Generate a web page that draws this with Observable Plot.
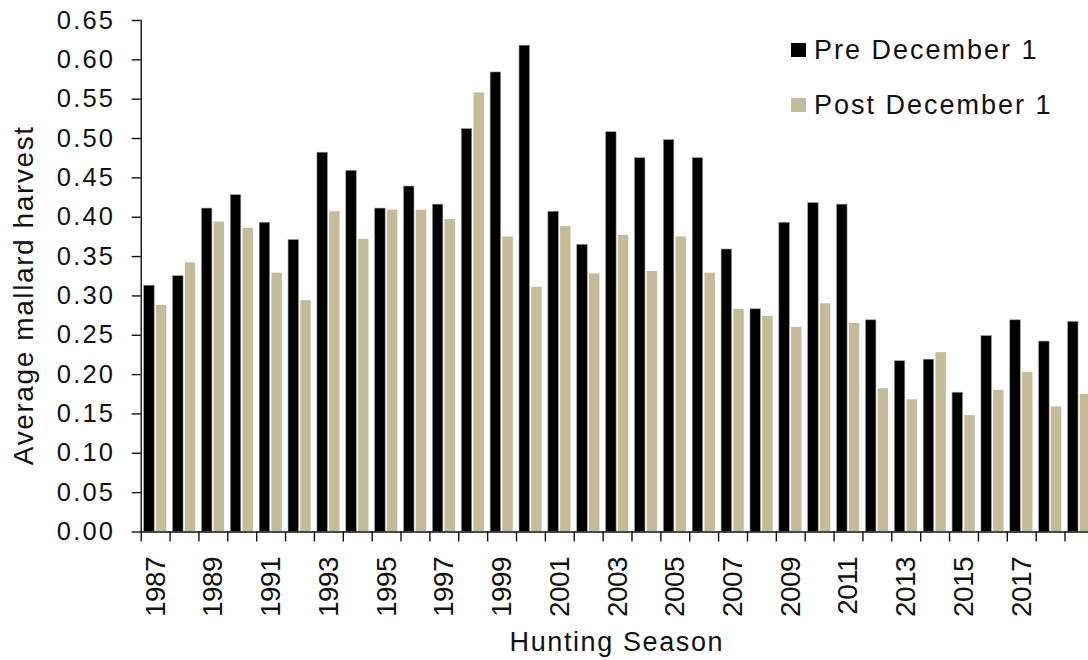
<!DOCTYPE html>
<html>
<head>
<meta charset="utf-8">
<script src="https://cdn.jsdelivr.net/npm/d3@7"></script>
<script src="https://cdn.jsdelivr.net/npm/@observablehq/plot@0.6"></script>
<style>
  html, body { margin: 0; padding: 0; background: #fff; }
  #wrap { position: relative; width: 1088px; height: 660px; overflow: hidden; }
  #wrap svg { overflow: hidden; display: block; }
  g[aria-label="y-axis tick label"] text { letter-spacing: 2.2px; }
  g[aria-label="x-axis tick label"] text { letter-spacing: -0.6px; }
  g[aria-label="text"] text { letter-spacing: 1.6px; }
  .legend { position: absolute; left: 0; top: 0; font-family: "Liberation Sans", Arial, sans-serif; color: #111; }
  .legend .sw { position: absolute; width: 15px; height: 14px; }
  .legend .lb { position: absolute; font-size: 27px; line-height: 30px; letter-spacing: 2px; white-space: nowrap; }
</style>
</head>
<body>
<div id="wrap"></div>
<script>
// ---- data ----
const years = [1987,1988,1989,1990,1991,1992,1993,1994,1995,1996,1997,1998,1999,2000,2001,2002,2003,2004,2005,2006,2007,2008,2009,2010,2011,2012,2013,2014,2015,2016,2017,2018,2019];
const preDec1 = [0.313,0.325,0.411,0.428,0.393,0.371,0.482,0.459,0.411,0.439,0.416,0.512,0.584,0.618,0.407,0.365,0.508,0.475,0.498,0.475,0.359,0.283,0.393,0.418,0.416,0.269,0.217,0.219,0.177,0.249,0.269,0.242,0.267];
const postDec1 = [0.288,0.342,0.394,0.386,0.329,0.294,0.407,0.372,0.409,0.409,0.397,0.558,0.375,0.311,0.388,0.328,0.377,0.331,0.375,0.329,0.283,0.274,0.260,0.290,0.265,0.182,0.168,0.228,0.148,0.180,0.203,0.159,0.175];
const seriesNames = ["Pre December 1", "Post December 1"];
const seriesColors = ["#000000", "#c4bc98"];
const yTicks = [0,0.05,0.10,0.15,0.20,0.25,0.30,0.35,0.40,0.45,0.50,0.55,0.60,0.65];
const xLabelYears = [1987,1989,1991,1993,1995,1997,1999,2001,2003,2005,2007,2009,2011,2013,2015,2017];
const xTitle = "Hunting Season";
const yTitle = "Average mallard harvest";

// ---- table ----
const preRows = years.map((year, i) => ({year, value: preDec1[i], series: seriesNames[0]}));
const postRows = years.map((year, i) => ({year, value: postDec1[i], series: seriesNames[1]}));
const boundaries = years.map(y => y - 0.5).concat([years[years.length - 1] + 0.5]);

const left = 140.7, band = 28.87;
const font = "'Liberation Sans', Arial, Helvetica, sans-serif";

const chart = Plot.plot({
  width: 1088,
  height: 660,
  marginLeft: left,
  marginRight: 0,
  marginTop: 20,
  marginBottom: 128.5,
  style: {fontFamily: font, color: "#111", background: "#fff", overflow: "hidden"},
  x: {type: "linear", domain: [years[0] - 0.5, years[years.length - 1] + 0.5], range: [left, left + years.length * band]},
  y: {domain: [0, 0.65]},
  marks: [
    Plot.rectY(preRows, {x1: d => d.year - 0.5, x2: d => d.year + 0.5, y: "value", fill: seriesColors[0], stroke: "#9a9a9a", strokeWidth: 0.6, insetLeft: 3, insetRight: 15.4}),
    Plot.rectY(postRows, {x1: d => d.year - 0.5, x2: d => d.year + 0.5, y: "value", fill: seriesColors[1], insetLeft: 15.2, insetRight: 3.2}),
    Plot.frame({anchor: "left", stroke: "#111", strokeWidth: 1.4}),
    Plot.frame({anchor: "bottom", stroke: "#111", strokeWidth: 1.4}),
    Plot.axisY({ticks: yTicks, tickFormat: d3.format(".2f"), tickSize: 9, tickPadding: 17, fontSize: 25.5, label: null, stroke: "#111", strokeWidth: 1.4}),
    Plot.axisX({ticks: boundaries, tickFormat: () => "", tickSize: 10, label: null, stroke: "#111", strokeWidth: 1.4}),
    Plot.axisX({ticks: xLabelYears, tickFormat: d => String(d), tickSize: 0, tickPadding: 25, tickRotate: -90, fontSize: 28, label: null}),
    Plot.text([yTitle], {frameAnchor: "left", textAnchor: "middle", lineAnchor: "middle", rotate: -90, dx: -117, dy: 19, fontSize: 28, fill: "#111"}),
    Plot.text([xTitle], {frameAnchor: "bottom", textAnchor: "middle", lineAnchor: "middle", dx: 2, dy: 110, fontSize: 27, fill: "#111"})
  ]
});

const wrap = document.getElementById("wrap");
wrap.appendChild(chart);

// ---- legend ----
const legend = document.createElement("div");
legend.className = "legend";
seriesNames.forEach((name, i) => {
  const sw = document.createElement("div");
  sw.className = "sw";
  sw.style.background = seriesColors[i];
  sw.style.left = "791px";
  sw.style.top = (42.7 + i * 55) + "px";
  const lb = document.createElement("div");
  lb.className = "lb";
  lb.textContent = name;
  lb.style.left = "814px";
  lb.style.top = (35 + i * 55) + "px";
  legend.appendChild(sw);
  legend.appendChild(lb);
});
wrap.appendChild(legend);
</script>
</body>
</html>
